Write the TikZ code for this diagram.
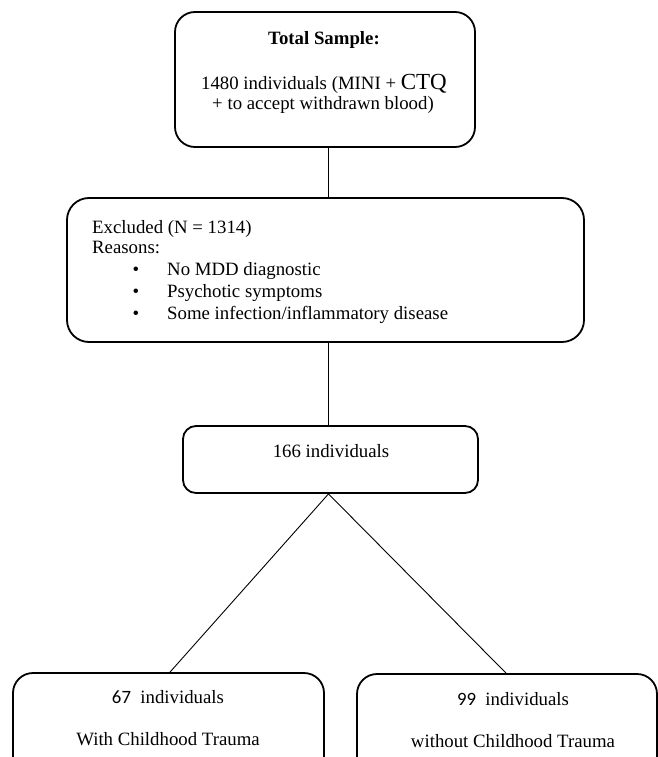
\documentclass[tikz,border=0pt]{standalone}
\usepackage{fontspec}
\setmainfont{Liberation Serif}
\newfontfamily\digitfont{Carlito}
\begin{document}
\begin{tikzpicture}[x=1pt,y=-1pt,
  box/.style={draw, line width=1.8pt, rounded corners=#1, inner sep=0pt},
  box/.default=20pt,
  txt/.style={inner sep=0pt, font=\fontsize{18.8}{22}\selectfont},
  conn/.style={draw, line width=0.9pt}
]
\useasboundingbox (0,0) rectangle (658,757);
\fill[white] (0,0) rectangle (658,757);
\clip (0,0) rectangle (658,757);

% boxes
\node[box=20pt, minimum width=300, minimum height=135] (top) at (325,79.5) {};
\node[box=22pt, minimum width=517, minimum height=144] (excl) at (325.5,270) {};
\node[box=13pt, minimum width=295, minimum height=67] (n166) at (330.5,459.5) {};
\node[box=20pt, minimum width=311, minimum height=110] (left) at (168.5,728) {};
\node[box=20pt, minimum width=300, minimum height=110] (right) at (507,729) {};

\coordinate (axis) at (328.5,0);

% top box text
\node[txt, anchor=base] (tsl) at (324,45) {\textbf{Total Sample:}};
\node[txt, anchor=base] (tl1) at (324,90) {1480 individuals (MINI + {\fontsize{23}{23}\selectfont CTQ}};
\node[txt, anchor=base] (tl2) at (323,110) {+ to accept withdrawn blood)};

% excluded text
\node[txt, anchor=base west] (ex1) at (92,233) {Excluded (N = 1314)};
\node[txt, anchor=base west] (ex2) at (92,253) {Reasons:};
\node[txt, anchor=base] (b1) at (136,275) {•};
\node[txt, anchor=base] (b2) at (136,297) {•};
\node[txt, anchor=base] (b3) at (136,319) {•};
\node[txt, anchor=base west] (r1) at (167,275) {No MDD diagnostic};
\node[txt, anchor=base west] (r2) at (167,297) {Psychotic symptoms};
\node[txt, anchor=base west] (r3) at (167,319) {Some infection/inflammatory disease};

% 166
\node[txt, anchor=base] (t166) at (331,457) {166 individuals};

% bottom
\node[txt, anchor=base] (l1) at (168,703) {{\digitfont 67}\ \ individuals};
\node[txt, anchor=base] (l2) at (168,745) {With Childhood Trauma};
\node[txt, anchor=base] (rr1) at (513,705) {{\digitfont 99}\ \ individuals};
\node[txt, anchor=base] (rr2) at (513,747) {without Childhood Trauma};

% connectors
\draw[conn] (top.south -| axis) -- (excl.north -| axis);
\draw[conn] (excl.south -| axis) -- (n166.north -| axis);
\draw[conn] (n166.south -| axis) -- ([xshift=1.5pt]left.north);
\draw[conn] (n166.south -| axis) -- ([xshift=-1pt]right.north);
\end{tikzpicture}
\end{document}
